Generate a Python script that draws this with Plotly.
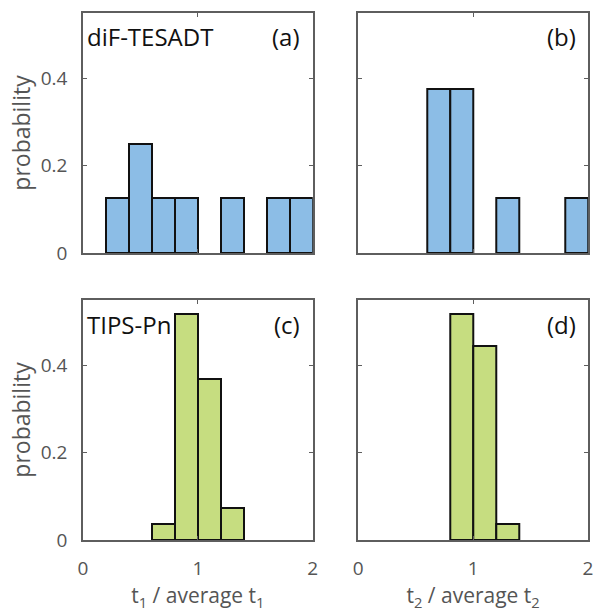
import plotly.graph_objects as go
from plotly.subplots import make_subplots

# Data (bin centres, bin width 0.2)
bin_width = 0.2
a_x = [0.3, 0.5, 0.7, 0.9, 1.3, 1.7, 1.9]
a_p = [0.125, 0.25, 0.125, 0.125, 0.125, 0.125, 0.125]
b_x = [0.7, 0.9, 1.3, 1.9]
b_p = [0.375, 0.375, 0.125, 0.125]
c_x = [0.7, 0.9, 1.1, 1.3]
c_p = [0.037, 0.519, 0.370, 0.074]
d_x = [0.9, 1.1, 1.3]
d_p = [0.519, 0.444, 0.037]

x_ticks = [0, 1, 2]
y_ticks = [0, 0.2, 0.4]
y_tick_text = ["0", "0.2", "0.4"]

blue = "#8CBDE6"
green = "#C6DD80"
frame = "#5E5E5E"
tickc = "#555555"
FONT = "Open Sans"

fig = make_subplots(rows=2, cols=2, horizontal_spacing=0.0902, vertical_spacing=0.0892)

panels = [(a_x, a_p, blue, 1, 1), (b_x, b_p, blue, 1, 2),
          (c_x, c_p, green, 2, 1), (d_x, d_p, green, 2, 2)]
for xs, ps, col, r, c in panels:
    fig.add_trace(go.Bar(x=xs, y=ps, width=bin_width,
                         marker=dict(color=col, line=dict(color="#111111", width=2)),
                         showlegend=False), row=r, col=c)

for r in (1, 2):
    for c in (1, 2):
        fig.update_xaxes(row=r, col=c, range=[0, 2], tickvals=x_ticks,
                         showticklabels=(r == 2), ticks="inside", ticklen=4,
                         tickwidth=1.3, tickcolor=frame, mirror="ticks",
                         showline=True, linecolor=frame, linewidth=1.6,
                         showgrid=False, zeroline=False,
                         tickfont=dict(family=FONT, size=19, color=tickc),
                         ticklabelstandoff=10)
        fig.update_yaxes(row=r, col=c, range=[0, 0.55], tickvals=y_ticks,
                         ticktext=y_tick_text,
                         showticklabels=(c == 1), ticks="inside", ticklen=4,
                         tickwidth=1.3, tickcolor=frame, mirror="ticks",
                         showline=True, linecolor=frame, linewidth=1.6,
                         showgrid=False, zeroline=False,
                         tickfont=dict(family=FONT, size=19, color=tickc),
                         ticklabelstandoff=10)

for c in (1,):
    for r in (1, 2):
        fig.update_yaxes(row=r, col=c, title=dict(text="probability",
                         font=dict(family=FONT, size=23, color=tickc), standoff=4))

fig.update_xaxes(row=2, col=1, title=dict(text="t<sub>1</sub> / average t<sub>1</sub>",
                 font=dict(family=FONT, size=21, color=tickc), standoff=9))
fig.update_xaxes(row=2, col=2, title=dict(text="t<sub>2</sub> / average t<sub>2</sub>",
                 font=dict(family=FONT, size=21, color=tickc), standoff=9))

labels = [("x", "y", "diF-TESADT", "(a)"), ("x2", "y2", None, "(b)"),
          ("x3", "y3", "TIPS-Pn", "(c)"), ("x4", "y4", None, "(d)")]
for xr, yr, name, tag in labels:
    if name:
        fig.add_annotation(xref=f"{xr} domain", yref=f"{yr} domain", x=0.008, y=0.9,
                           text=name, showarrow=False, xanchor="left", yanchor="middle",
                           font=dict(family=FONT, size=24, color="#111111"))
    fig.add_annotation(xref=f"{xr} domain", yref=f"{yr} domain", x=0.955, y=0.9,
                       text=tag, showarrow=False, xanchor="right", yanchor="middle",
                       font=dict(family=FONT, size=24, color="#111111"))

fig.update_layout(width=597, height=612, margin=dict(l=83, r=4, t=13, b=72),
                  plot_bgcolor="white", paper_bgcolor="white", bargap=0)

fig.write_html("out.html")
